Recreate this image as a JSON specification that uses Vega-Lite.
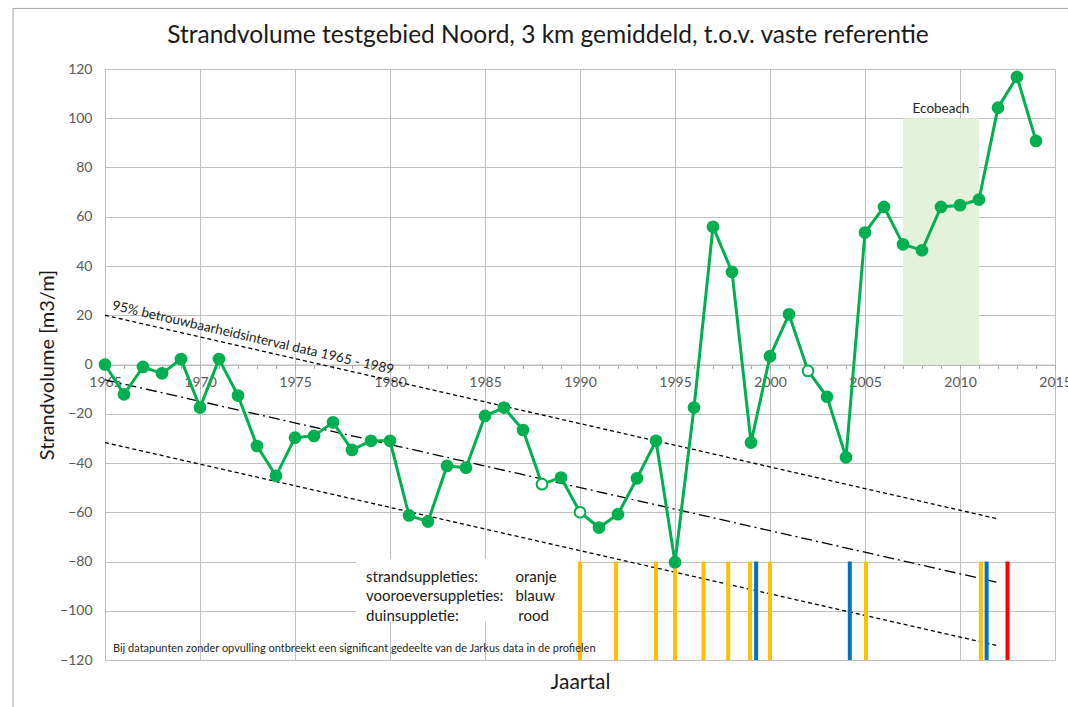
{
  "$schema": "https://vega.github.io/schema/vega-lite/v6.json",
  "width": 950,
  "height": 591,
  "autosize": {"type": "none"},
  "padding": {"left": 105, "top": 69, "right": 13, "bottom": 47},
  "background": "white",
  "title": {"text": "Strandvolume testgebied Noord, 3 km gemiddeld, t.o.v. vaste referentie", "font": "Lato", "fontSize": 24.5, "fontWeight": "normal", "color": "#1a1a1a", "anchor": "middle", "frame": "group", "dx": -32, "offset": -41},
  "config": {"view": {"stroke": null}, "font": "Lato"},
  "datasets": {
    "vol": [
      {"yr": 1965, "v": 0, "filled": "ja"},
      {"yr": 1966, "v": -12.1, "filled": "ja"},
      {"yr": 1967, "v": -1, "filled": "ja"},
      {"yr": 1968, "v": -3.6, "filled": "ja"},
      {"yr": 1969, "v": 2.2, "filled": "ja"},
      {"yr": 1970, "v": -17.5, "filled": "ja"},
      {"yr": 1971, "v": 2.2, "filled": "ja"},
      {"yr": 1972, "v": -12.6, "filled": "ja"},
      {"yr": 1973, "v": -33.1, "filled": "ja"},
      {"yr": 1974, "v": -45.2, "filled": "ja"},
      {"yr": 1975, "v": -29.7, "filled": "ja"},
      {"yr": 1976, "v": -29, "filled": "ja"},
      {"yr": 1977, "v": -23.5, "filled": "ja"},
      {"yr": 1978, "v": -34.7, "filled": "ja"},
      {"yr": 1979, "v": -31, "filled": "ja"},
      {"yr": 1980, "v": -31, "filled": "ja"},
      {"yr": 1981, "v": -61.3, "filled": "ja"},
      {"yr": 1982, "v": -63.8, "filled": "ja"},
      {"yr": 1983, "v": -41.2, "filled": "ja"},
      {"yr": 1984, "v": -41.9, "filled": "ja"},
      {"yr": 1985, "v": -20.9, "filled": "ja"},
      {"yr": 1986, "v": -17.5, "filled": "ja"},
      {"yr": 1987, "v": -26.6, "filled": "ja"},
      {"yr": 1988, "v": -48.6, "filled": "nee"},
      {"yr": 1989, "v": -45.9, "filled": "ja"},
      {"yr": 1990, "v": -60, "filled": "nee"},
      {"yr": 1991, "v": -66.2, "filled": "ja"},
      {"yr": 1992, "v": -60.8, "filled": "ja"},
      {"yr": 1993, "v": -46.2, "filled": "ja"},
      {"yr": 1994, "v": -31, "filled": "ja"},
      {"yr": 1995, "v": -80.3, "filled": "ja"},
      {"yr": 1996, "v": -17.5, "filled": "ja"},
      {"yr": 1997, "v": 55.9, "filled": "ja"},
      {"yr": 1998, "v": 37.6, "filled": "ja"},
      {"yr": 1999, "v": -31.7, "filled": "ja"},
      {"yr": 2000, "v": 3.4, "filled": "ja"},
      {"yr": 2001, "v": 20.4, "filled": "ja"},
      {"yr": 2002, "v": -2.6, "filled": "nee"},
      {"yr": 2003, "v": -13.1, "filled": "ja"},
      {"yr": 2004, "v": -37.7, "filled": "ja"},
      {"yr": 2005, "v": 53.6, "filled": "ja"},
      {"yr": 2006, "v": 64, "filled": "ja"},
      {"yr": 2007, "v": 48.8, "filled": "ja"},
      {"yr": 2008, "v": 46.4, "filled": "ja"},
      {"yr": 2009, "v": 64, "filled": "ja"},
      {"yr": 2010, "v": 64.7, "filled": "ja"},
      {"yr": 2011, "v": 67, "filled": "ja"},
      {"yr": 2012, "v": 104.3, "filled": "ja"},
      {"yr": 2013, "v": 116.8, "filled": "ja"},
      {"yr": 2014, "v": 90.8, "filled": "ja"}
    ],
    "trend": [
      {"yr": 1965, "v": 20, "band": "boven"},
      {"yr": 2012, "v": -62.7, "band": "boven"},
      {"yr": 1965, "v": -6.2, "band": "midden"},
      {"yr": 2012, "v": -88.5, "band": "midden"},
      {"yr": 1965, "v": -31.7, "band": "onder"},
      {"yr": 2012, "v": -114.2, "band": "onder"}
    ],
    "suppl": [
      {"yr": 1990, "type": "strand"},
      {"yr": 1991.9, "type": "strand"},
      {"yr": 1994, "type": "strand"},
      {"yr": 1995, "type": "strand"},
      {"yr": 1996.5, "type": "strand"},
      {"yr": 1997.8, "type": "strand"},
      {"yr": 1998.95, "type": "strand"},
      {"yr": 2000, "type": "strand"},
      {"yr": 2005.05, "type": "strand"},
      {"yr": 2011.1, "type": "strand"},
      {"yr": 1999.27, "type": "vooroever"},
      {"yr": 2004.2, "type": "vooroever"},
      {"yr": 2011.4, "type": "vooroever"},
      {"yr": 2012.5, "type": "duin"}
    ]
  },
  "layer": [
    {
      "data": {"values": [{"yr": 2007, "yr2": 2011, "v": 0, "v2": 100}]},
      "mark": {"type": "rect", "color": "#E4F2D9"},
      "encoding": {
        "x": {"field": "yr", "type": "quantitative",
          "scale": {"domain": [1965, 2015], "nice": false, "zero": false},
          "axis": {
            "title": "Jaartal", "titleFont": "Lato", "titleFontSize": 21, "titleFontWeight": "normal", "titleColor": "#1a1a1a",
            "titleY": 318, "titleBaseline": "middle",
            "offset": -295.5,
            "tickCount": 100,
            "values": [1965,1966,1967,1968,1969,1970,1971,1972,1973,1974,1975,1976,1977,1978,1979,1980,1981,1982,1983,1984,1985,1986,1987,1988,1989,1990,1991,1992,1993,1994,1995,1996,1997,1998,1999,2000,2001,2002,2003,2004,2005,2006,2007,2008,2009,2010,2011,2012,2013,2014,2015],
            "format": "d",
            "labelExpr": "datum.value % 5 === 0 ? datum.label : ''",
            "labelFont": "Lato", "labelFontSize": 14, "labelColor": "#595959", "labelPadding": 7,
            "labelFlush": false, "labelOverlap": false,
            "tickSize": 4, "tickColor": "#A6A6A6",
            "domainColor": "#BFBFBF",
            "grid": true, "gridColor": "#BFBFBF",
            "gridOpacity": {"condition": {"test": "datum.value % 5 === 0", "value": 1}, "value": 0}
          }},
        "x2": {"field": "yr2"},
        "y": {"field": "v", "type": "quantitative",
          "scale": {"domain": [-120, 120], "nice": false, "zero": false},
          "axis": {
            "title": "Strandvolume  [m3/m]", "titleFont": "Lato", "titleFontSize": 20, "titleFontWeight": "normal", "titleColor": "#1a1a1a",
            "titleX": -58, "titleY": 295.5, "titleAngle": -90, "titleAlign": "center", "titleBaseline": "middle",
            "values": [-120,-100,-80,-60,-40,-20,0,20,40,60,80,100,120],
            "tickCount": 20,
            "ticks": false, "labelPadding": 13,
            "labelFont": "Lato", "labelFontSize": 14, "labelColor": "#595959",
            "domainColor": "#BFBFBF",
            "grid": true, "gridColor": "#BFBFBF"
          }},
        "y2": {"field": "v2"}
      }
    },
    {
      "data": {"values": [{"yr": 1978.2, "yr2": 1989.9, "v": -78.9, "v2": -104.5}]},
      "mark": {"type": "rect", "color": "white"},
      "encoding": {
        "x": {"field": "yr", "type": "quantitative"},
        "x2": {"field": "yr2"},
        "y": {"field": "v", "type": "quantitative"},
        "y2": {"field": "v2"}
      }
    },
    {
      "data": {"values": [
        {"yr": 1960.16, "yr2": 1960.16, "v": 144.6, "v2": -140},
        {"yr": 1960.16, "yr2": 2015.7, "v": 144.6, "v2": 144.6}
      ]},
      "mark": {"type": "rule", "color": "#A6A6A6", "strokeWidth": 1},
      "encoding": {
        "x": {"field": "yr", "type": "quantitative"},
        "x2": {"field": "yr2"},
        "y": {"field": "v", "type": "quantitative"},
        "y2": {"field": "v2"}
      }
    },
    {
      "data": {"name": "trend"},
      "mark": {"type": "line", "color": "black", "strokeWidth": 1.3},
      "encoding": {
        "x": {"field": "yr", "type": "quantitative"},
        "y": {"field": "v", "type": "quantitative"},
        "detail": {"field": "band"},
        "strokeDash": {"field": "band", "type": "nominal", "legend": null,
          "scale": {"domain": ["boven", "midden", "onder"], "range": [[4, 3], [11, 4, 2, 4], [4, 3]]}}
      }
    },
    {
      "data": {"name": "suppl"},
      "mark": {"type": "rule", "strokeWidth": 4},
      "encoding": {
        "x": {"field": "yr", "type": "quantitative"},
        "y": {"datum": -80},
        "y2": {"datum": -120},
        "color": {"field": "type", "type": "nominal", "legend": null,
          "scale": {"domain": ["strand", "vooroever", "duin"], "range": ["#FFC000", "#0070C0", "#FF0000"]}}
      }
    },
    {
      "data": {"name": "vol"},
      "mark": {"type": "line", "color": "#00B050", "strokeWidth": 3},
      "encoding": {
        "x": {"field": "yr", "type": "quantitative"},
        "y": {"field": "v", "type": "quantitative"}
      }
    },
    {
      "data": {"name": "vol"},
      "mark": {"type": "point", "shape": "circle", "size": 115, "stroke": "#00B050", "strokeWidth": 2, "opacity": 1},
      "encoding": {
        "x": {"field": "yr", "type": "quantitative"},
        "y": {"field": "v", "type": "quantitative"},
        "fill": {"field": "filled", "type": "nominal", "legend": null,
          "scale": {"domain": ["ja", "nee"], "range": ["#00B050", "#FFFFFF"]}}
      }
    },
    {
      "data": {"values": [
        {"yr": 1978.74, "v": -86.2, "txt": "strandsuppleties:"},
        {"yr": 1978.74, "v": -94.1, "txt": "vooroeversuppleties:"},
        {"yr": 1978.74, "v": -102.0, "txt": "duinsuppletie:"},
        {"yr": 1986.6, "v": -86.2, "txt": "oranje"},
        {"yr": 1986.6, "v": -94.1, "txt": "blauw"},
        {"yr": 1986.75, "v": -102.0, "txt": "rood"}
      ]},
      "mark": {"type": "text", "align": "left", "baseline": "middle", "font": "Lato", "fontSize": 15, "color": "#1a1a1a"},
      "encoding": {
        "x": {"field": "yr", "type": "quantitative"},
        "y": {"field": "v", "type": "quantitative"},
        "text": {"field": "txt"}
      }
    },
    {
      "data": {"values": [{"yr": 1965.42, "v": -115.4, "txt": "Bij datapunten zonder opvulling ontbreekt een significant gedeelte van de Jarkus data in de profielen"}]},
      "mark": {"type": "text", "align": "left", "baseline": "middle", "font": "Lato", "fontSize": 11, "color": "#262626"},
      "encoding": {
        "x": {"field": "yr", "type": "quantitative"},
        "y": {"field": "v", "type": "quantitative"},
        "text": {"field": "txt"}
      }
    },
    {
      "data": {"values": [{"yr": 2009, "v": 103.6, "txt": "Ecobeach"}]},
      "mark": {"type": "text", "align": "center", "baseline": "middle", "font": "Lato", "fontSize": 13.5, "color": "#262626"},
      "encoding": {
        "x": {"field": "yr", "type": "quantitative"},
        "y": {"field": "v", "type": "quantitative"},
        "text": {"field": "txt"}
      }
    },
    {
      "data": {"values": [{"yr": 1972.79, "v": 10.75, "txt": "95% betrouwbaarheidsinterval data 1965 - 1989"}]},
      "mark": {"type": "text", "align": "center", "baseline": "middle", "font": "Lato", "fontSize": 13.5, "angle": 13, "color": "#1a1a1a"},
      "encoding": {
        "x": {"field": "yr", "type": "quantitative"},
        "y": {"field": "v", "type": "quantitative"},
        "text": {"field": "txt"}
      }
    }
  ]
}
